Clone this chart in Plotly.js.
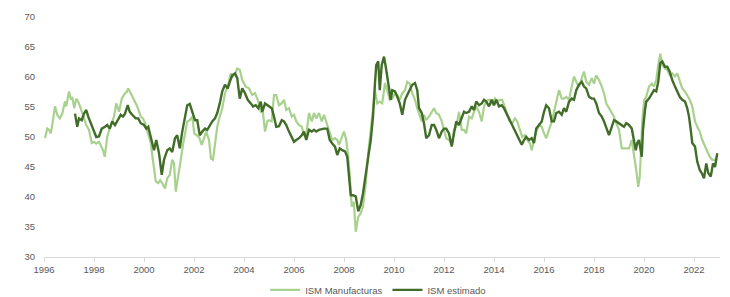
<!DOCTYPE html>
<html>
<head>
<meta charset="utf-8">
<script src="https://cdn.plot.ly/plotly-3.0.1.min.js"></script>
<style>
html,body{margin:0;padding:0;background:#fff;}
#chart{width:730px;height:297px;}
</style>
</head>
<body>
<div id="chart"></div>
<script>
// Series names
const seriesNames = ["ISM Manufacturas", "ISM estimado"];

// ISM Manufacturas (decimal year, value)
const lightX = [
 1996.04,1996.13,1996.20,1996.27,1996.33,1996.44,1996.53,1996.63,1996.73,1996.84,1996.89,
 1997.00,1997.08,1997.13,1997.21,1997.29,1997.40,1997.51,1997.60,1997.69,1997.80,1997.91,
 1998.00,1998.09,1998.20,1998.27,1998.36,1998.43,1998.53,1998.63,1998.71,1998.80,1998.89,
 1999.00,1999.11,1999.24,1999.31,1999.37,1999.47,1999.60,1999.73,1999.87,1999.96,
 2000.04,2000.13,2000.27,2000.33,2000.40,2000.47,2000.57,2000.65,2000.73,2000.84,2000.93,
 2001.03,2001.13,2001.20,2001.27,2001.37,2001.47,2001.56,2001.64,2001.73,2001.83,2001.93,
 2002.01,2002.09,2002.20,2002.31,2002.40,2002.49,2002.60,2002.68,2002.76,2002.84,2002.93,
 2003.03,2003.13,2003.24,2003.35,2003.47,2003.56,2003.64,2003.73,2003.83,2003.93,
 2004.07,2004.20,2004.33,2004.44,2004.55,2004.67,2004.76,2004.84,2004.93,
 2005.00,2005.11,2005.20,2005.29,2005.40,2005.51,2005.60,2005.69,2005.80,2005.91,
 2006.00,2006.09,2006.20,2006.31,2006.40,2006.49,2006.60,2006.71,2006.80,2006.89,
 2007.00,2007.11,2007.20,2007.33,2007.43,2007.53,2007.64,2007.73,2007.80,2007.91,
 2008.00,2008.09,2008.17,2008.25,2008.31,2008.39,2008.47,2008.57,2008.67,2008.76,2008.87,2008.97,
 2009.07,2009.16,2009.24,2009.33,2009.43,2009.53,2009.64,2009.73,2009.83,2009.93,
 2010.04,2010.13,2010.23,2010.33,2010.44,2010.53,2010.63,2010.73,2010.84,2010.93,
 2011.03,2011.11,2011.20,2011.29,2011.40,2011.51,2011.60,2011.69,2011.80,2011.91,
 2012.00,2012.09,2012.20,2012.31,2012.40,2012.49,2012.60,2012.71,2012.80,2012.89,
 2013.00,2013.11,2013.20,2013.29,2013.40,2013.51,2013.60,2013.69,2013.77,2013.83,2013.93,
 2014.04,2014.13,2014.23,2014.33,2014.44,2014.53,2014.63,2014.73,2014.84,2014.93,
 2015.03,2015.13,2015.24,2015.33,2015.43,2015.51,2015.60,2015.69,2015.80,2015.91,
 2016.00,2016.09,2016.20,2016.31,2016.40,2016.49,2016.60,2016.71,2016.80,2016.89,
 2017.00,2017.11,2017.20,2017.29,2017.40,2017.51,2017.60,2017.69,2017.80,2017.91,
 2018.00,2018.09,2018.20,2018.31,2018.40,2018.49,2018.60,2018.71,2018.80,2018.89,
 2019.00,2019.11,2019.20,2019.29,2019.40,2019.51,2019.60,2019.69,2019.77,2019.83,2019.88,2019.93,
 2020.01,2020.09,2020.20,2020.31,2020.40,2020.49,2020.57,2020.65,2020.73,2020.84,2020.93,
 2021.03,2021.13,2021.24,2021.33,2021.43,2021.53,2021.64,2021.73,2021.83,2021.93,
 2022.04,2022.13,2022.23,2022.33,2022.44,2022.53,2022.63,2022.73,2022.84
];
const lightY = [
 49.8,51.4,51.2,50.6,52.0,55.1,53.7,53.1,53.9,55.9,55.1,
 57.6,56.2,56.7,54.8,56.4,55.6,54.2,52.8,52.0,51.2,49.0,
 49.2,48.9,49.2,48.6,47.8,46.7,50.1,51.4,52.3,53.4,55.6,
 54.2,56.4,57.3,57.5,58.1,57.3,56.2,55.1,53.4,53.1,
 52.3,50.9,49.0,47.0,45.0,42.6,42.3,42.8,42.3,41.4,43.1,
 43.7,46.2,45.6,40.9,44.0,46.2,48.7,50.9,52.6,52.8,53.4,
 50.6,50.3,50.0,48.7,50.0,50.9,49.5,46.4,46.2,48.7,51.7,
 53.4,54.8,57.3,58.4,60.6,60.1,60.5,61.4,61.2,59.5,
 58.4,58.1,57.0,57.3,56.2,54.2,54.0,50.9,52.6,
 52.8,52.6,57.0,57.0,55.3,55.6,56.2,54.5,54.8,53.4,
 53.7,52.6,52.0,51.7,50.3,50.3,54.0,52.6,54.0,53.1,
 54.0,52.6,53.7,52.0,50.9,49.5,49.8,49.5,48.7,50.0,
 50.9,49.5,46.7,42.3,38.4,39.2,34.2,36.7,37.3,38.4,42.3,47.3,
 51.2,55.1,57.8,55.6,55.9,55.6,59.0,57.8,56.2,56.4,
 57.3,57.0,56.2,57.3,57.8,59.2,58.9,57.3,56.2,54.8,
 53.4,52.6,53.7,52.8,53.4,54.2,54.8,54.0,53.7,52.6,
 51.2,49.8,49.5,48.7,51.2,51.7,54.2,51.2,51.2,50.6,
 53.4,53.1,54.2,55.1,54.2,52.6,55.1,55.9,56.2,56.2,55.6,
 56.4,55.9,56.2,56.2,54.8,54.0,52.6,52.3,53.1,52.6,
 51.4,50.0,50.3,49.5,49.0,47.8,49.5,50.9,52.0,51.7,
 50.6,49.8,51.2,52.6,54.2,55.9,57.8,56.4,56.4,56.7,
 56.2,58.4,60.1,59.2,58.4,59.8,60.9,59.2,58.7,59.8,
 58.9,60.3,59.5,58.4,57.3,55.6,54.8,54.2,53.4,52.3,
 51.2,48.1,48.1,48.1,48.1,49.5,47.3,44.5,41.7,43.4,47.8,52.8,
 56.2,56.7,58.4,58.9,58.4,59.5,62.0,63.9,62.0,61.4,61.2,
 60.3,60.6,60.1,60.6,59.2,58.1,57.6,57.0,56.2,55.1,
 52.6,51.7,50.9,49.5,48.4,47.5,46.7,46.2,46.2
];

// ISM estimado (decimal year, value)
const darkX = [
 1997.24,1997.33,1997.40,1997.51,1997.60,1997.69,1997.77,1997.87,
 1998.00,1998.09,1998.20,1998.31,1998.44,1998.53,1998.63,1998.73,1998.84,1998.95,
 1999.07,1999.16,1999.24,1999.35,1999.43,1999.53,1999.67,1999.77,1999.87,
 2000.00,2000.09,2000.17,2000.31,2000.40,2000.49,2000.60,2000.71,2000.80,2000.93,
 2001.03,2001.13,2001.24,2001.33,2001.43,2001.53,2001.64,2001.73,2001.83,2001.93,
 2002.04,2002.13,2002.23,2002.33,2002.44,2002.53,2002.63,2002.73,2002.84,2002.93,
 2003.03,2003.13,2003.24,2003.35,2003.43,2003.53,2003.64,2003.73,2003.83,2003.93,
 2004.04,2004.15,2004.27,2004.36,2004.47,2004.57,2004.67,2004.73,2004.84,2004.93,
 2005.00,2005.11,2005.20,2005.29,2005.40,2005.51,2005.60,2005.69,2005.80,2005.91,
 2006.00,2006.09,2006.20,2006.31,2006.40,2006.49,2006.60,2006.71,2006.80,2006.89,
 2007.00,2007.11,2007.20,2007.33,2007.43,2007.53,2007.64,2007.73,2007.83,2007.93,
 2008.04,2008.13,2008.20,2008.27,2008.36,2008.47,2008.57,2008.67,2008.76,2008.87,2008.97,
 2009.07,2009.16,2009.24,2009.29,2009.37,2009.43,2009.51,2009.60,2009.67,2009.73,2009.80,2009.87,2009.93,
 2010.04,2010.13,2010.23,2010.33,2010.44,2010.53,2010.63,2010.73,2010.84,2010.93,
 2011.00,2011.11,2011.20,2011.29,2011.40,2011.51,2011.60,2011.69,2011.80,2011.91,
 2012.00,2012.09,2012.20,2012.31,2012.40,2012.49,2012.60,2012.71,2012.80,2012.89,
 2013.00,2013.11,2013.20,2013.29,2013.40,2013.51,2013.60,2013.69,2013.80,2013.91,
 2014.00,2014.09,2014.20,2014.31,2014.40,2014.49,2014.60,2014.71,2014.80,2014.89,
 2015.00,2015.11,2015.20,2015.29,2015.40,2015.51,2015.60,2015.69,2015.80,2015.91,
 2016.00,2016.09,2016.20,2016.31,2016.40,2016.49,2016.60,2016.71,2016.80,2016.89,
 2017.00,2017.11,2017.20,2017.29,2017.40,2017.51,2017.60,2017.69,2017.80,2017.91,
 2018.00,2018.09,2018.20,2018.31,2018.40,2018.49,2018.60,2018.71,2018.80,2018.89,
 2019.00,2019.11,2019.20,2019.29,2019.40,2019.51,2019.60,2019.67,2019.73,2019.80,2019.91,2019.96,
 2020.04,2020.09,2020.20,2020.31,2020.40,2020.49,2020.57,2020.65,2020.73,2020.84,2020.93,
 2021.03,2021.13,2021.24,2021.33,2021.43,2021.53,2021.64,2021.73,2021.80,2021.87,2021.93,
 2022.04,2022.13,2022.23,2022.31,2022.40,2022.49,2022.57,2022.67,2022.76,2022.84,2022.93
];
const darkY = [
 53.9,51.7,53.1,52.8,53.9,54.5,53.4,52.3,
 50.9,50.0,50.1,51.4,51.7,52.0,51.4,52.6,52.0,52.8,
 53.7,53.4,53.9,55.3,54.2,53.7,53.1,53.1,52.3,
 52.0,51.4,51.7,49.5,47.8,49.5,47.3,43.7,46.2,47.8,
 48.1,47.5,49.8,50.3,48.1,50.9,53.7,55.3,55.5,54.2,
 52.8,52.8,50.3,50.9,51.4,51.2,52.0,52.6,53.1,54.0,
 55.6,57.6,58.7,58.1,59.2,60.3,60.6,59.8,56.4,58.1,
 57.3,56.2,55.6,55.1,55.3,54.8,55.9,54.2,55.6,55.3,
 55.1,54.8,53.4,51.7,51.8,52.8,52.6,52.0,50.9,49.8,
 49.2,49.5,49.8,50.3,50.9,49.5,51.2,50.9,51.2,50.9,
 51.2,51.3,51.4,51.4,49.5,48.9,48.4,47.0,48.1,47.8,
 47.6,46.7,43.4,40.3,40.3,40.1,37.6,38.7,40.6,43.4,46.7,
 49.5,53.4,59.0,62.0,62.6,57.8,62.0,63.4,61.7,59.8,57.8,56.2,57.8,
 57.6,56.7,55.6,53.7,56.2,57.0,57.8,58.7,59.0,57.8,
 54.8,54.0,52.3,49.8,50.3,52.0,52.0,51.2,49.8,50.9,
 51.4,51.4,50.6,48.4,50.6,52.6,52.0,53.1,54.2,54.0,
 54.2,55.1,54.5,55.9,55.3,55.6,56.2,55.9,55.1,56.2,
 55.3,56.2,55.1,55.3,54.8,54.0,53.1,52.0,51.4,50.6,
 49.8,48.7,49.5,50.0,49.5,49.8,49.0,51.4,52.0,52.6,
 54.2,55.3,54.8,52.6,52.6,54.0,54.2,53.7,54.8,54.2,
 55.9,56.4,56.2,57.8,58.7,59.2,58.4,58.1,56.7,56.4,
 56.4,55.6,54.0,53.4,52.6,51.7,50.3,51.7,52.8,52.6,
 52.3,52.0,51.7,52.3,52.0,51.4,49.2,47.8,49.0,49.5,46.7,51.2,
 54.5,55.9,56.4,57.3,57.8,57.6,59.2,62.3,62.6,61.7,61.7,
 60.9,59.5,58.4,57.6,56.7,56.2,55.9,54.8,53.4,51.2,49.0,
 48.4,45.9,44.5,44.0,43.1,45.6,44.0,43.4,45.6,45.0,47.3
];

// Axis ticks
const yTicks = [30, 35, 40, 45, 50, 55, 60, 65, 70];
const xTicks = [1996,1998,2000,2002,2004,2006,2008,2010,2012,2014,2016,2018,2020,2022];

const font = {family: '"Liberation Sans", Arial, sans-serif', size: 9.5, color: '#595959'};

const traces = [
  {x: lightX, y: lightY, name: seriesNames[0], type: 'scatter', mode: 'lines',
   line: {color: '#a9d18e', width: 2.2}, hoverinfo: 'skip'},
  {x: darkX, y: darkY, name: seriesNames[1], type: 'scatter', mode: 'lines',
   line: {color: '#416d28', width: 2.4}, hoverinfo: 'skip'}
];

const layout = {
  width: 730, height: 297,
  margin: {l: 44, r: 10, t: 17, b: 40, pad: 0, autoexpand: false},
  paper_bgcolor: '#ffffff', plot_bgcolor: '#ffffff',
  font: font,
  showlegend: true,
  legend: {orientation: 'h', xref: 'container', yref: 'container',
           x: 0.518, xanchor: 'center', y: 0.024, yanchor: 'middle',
           font: font, itemwidth: 30, tracegroupgap: 0, bgcolor: 'rgba(0,0,0,0)'},
  xaxis: {
    range: [1996, 2023.04], tickvals: xTicks, ticktext: xTicks.map(String),
    showgrid: false, zeroline: false, showline: true, linecolor: '#d9d9d9', linewidth: 1,
    ticks: 'outside', ticklen: 4, tickcolor: '#d9d9d9', tickfont: font
  },
  yaxis: {
    range: [30, 70], tickvals: yTicks, ticktext: yTicks.map(String),
    showgrid: false, zeroline: false, showline: false,
    ticks: 'outside', ticklen: 6, tickcolor: 'rgba(0,0,0,0)', tickfont: font
  }
};

Plotly.newPlot('chart', traces, layout, {displayModeBar: false, staticPlot: true});
</script>
</body>
</html>
